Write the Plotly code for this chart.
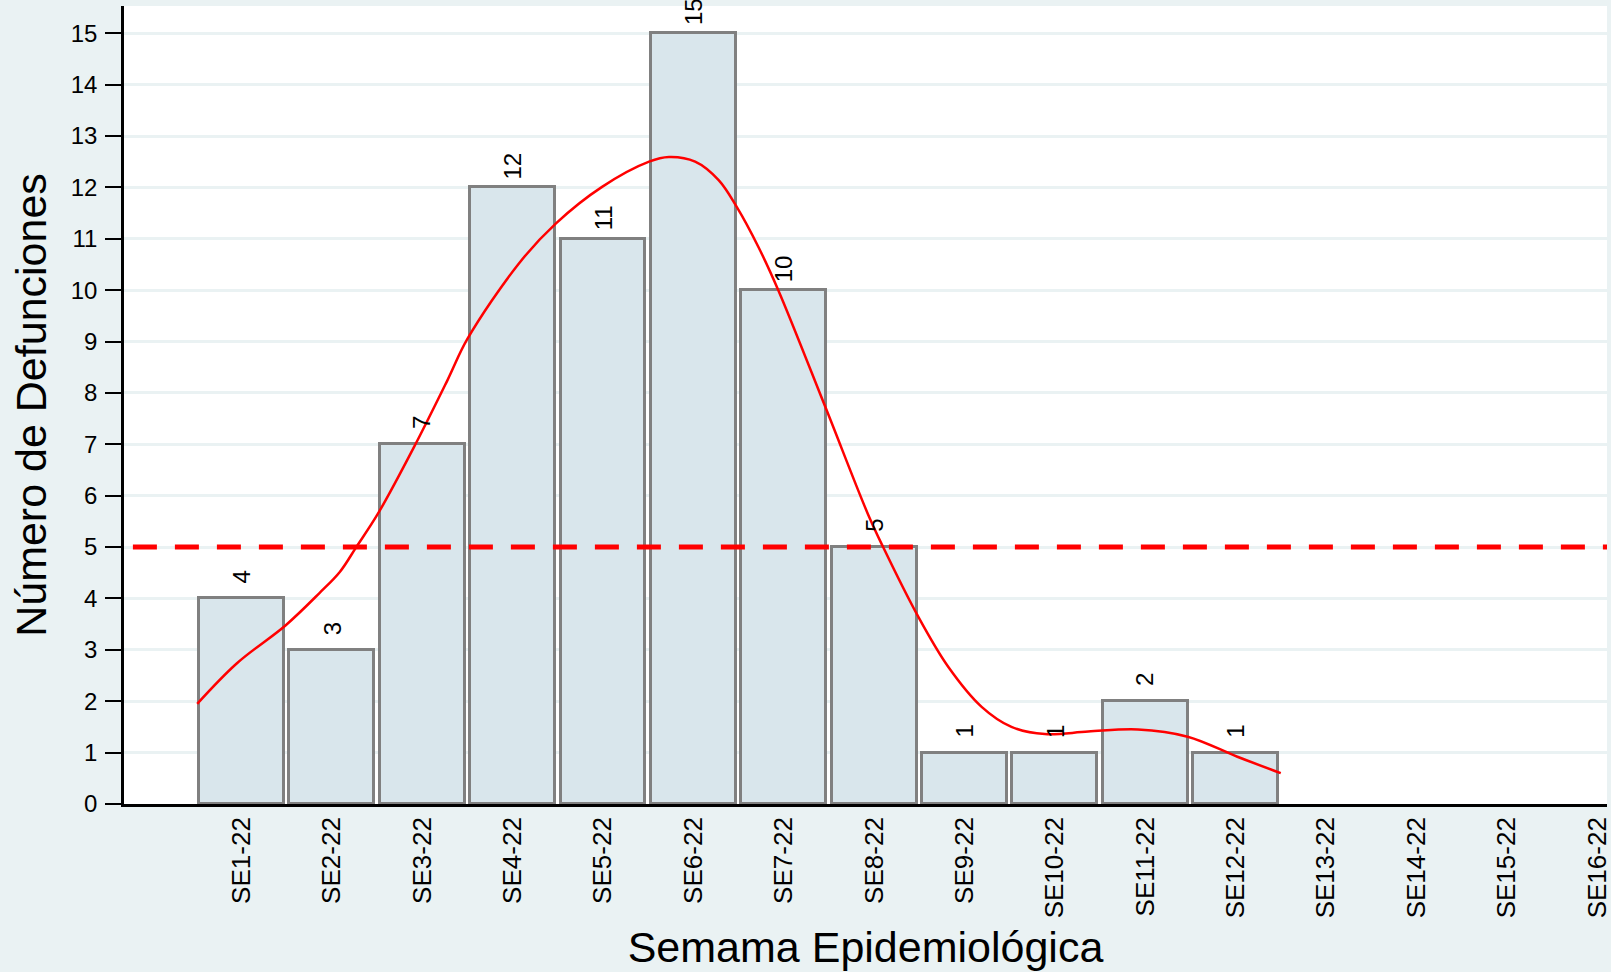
import plotly.graph_objects as go

# --- Datos ---
SEMANAS = list(range(1, 17))
ETIQUETAS = [f"SE{s}-22" for s in SEMANAS]
SEMANAS_CON_DATOS = list(range(1, 13))
DEFUNCIONES = [4, 3, 7, 12, 11, 15, 10, 5, 1, 1, 2, 1]
UMBRAL = 5

# curva suavizada (semana, valor)
CURVA_X = [0.51, 0.95, 1.49, 1.86, 2.09, 2.27, 2.51, 2.91, 3.28, 3.5, 4.07,
           4.48, 4.99, 5.51, 5.73, 6.02, 6.28, 6.48, 6.72, 6.94, 7.46, 7.93,
           8.10, 8.49, 8.82, 9.19, 9.52, 9.89, 10.37, 10.92, 11.47, 12.02, 12.50]
CURVA_Y = [1.95, 2.74, 3.48, 4.10, 4.52, 5.0, 5.65, 6.95, 8.25, 9.05, 10.52,
           11.3, 12.01, 12.50, 12.59, 12.50, 12.14, 11.62, 10.84, 10.0, 7.73, 5.65,
           5.0, 3.64, 2.67, 1.89, 1.50, 1.36, 1.41, 1.45, 1.31, 0.92, 0.60]

FONDO = "#eaf2f3"
FUENTE = "Liberation Sans, Arial, sans-serif"

fig = go.Figure()

fig.add_trace(go.Bar(
    x=SEMANAS_CON_DATOS,
    y=DEFUNCIONES,
    width=0.94,
    marker=dict(color="#d9e6ec", line=dict(color="#808080", width=3)),
    hoverinfo="x+y",
    showlegend=False,
))

fig.add_trace(go.Scatter(
    x=CURVA_X,
    y=CURVA_Y,
    mode="lines",
    line=dict(color="red", width=2.5, shape="spline", smoothing=1.0),
    hoverinfo="skip",
    showlegend=False,
))

# línea de umbral
fig.add_shape(
    type="line", xref="paper", yref="y",
    x0=0.006, x1=1, y0=UMBRAL, y1=UMBRAL,
    line=dict(color="red", width=5, dash="24px,18px"),
    layer="above",
)

# etiquetas de las barras (rotadas)
for s, v in zip(SEMANAS_CON_DATOS, DEFUNCIONES):
    fig.add_annotation(
        x=s, y=v, text=str(v), showarrow=False,
        textangle=-90, yanchor="middle", xanchor="center",
        yshift=21.5,
        font=dict(size=24, color="black", family=FUENTE),
    )

fig.update_layout(
    width=1611,
    height=972,
    margin=dict(l=124, r=0, t=6, b=168),
    paper_bgcolor=FONDO,
    plot_bgcolor="white",
    font=dict(family=FUENTE, color="black"),
    bargap=0,
)

fig.update_xaxes(
    range=[-0.30, 16.11],
    tickmode="array",
    tickvals=SEMANAS,
    ticktext=ETIQUETAS,
    tickangle=-90,
    tickfont=dict(size=26),
    ticks="",
    ticklabelstandoff=0,
    ticklabeloverflow="allow",
    showgrid=False,
    zeroline=False,
    showline=True,
    linecolor="black",
    linewidth=2.5,
    title=dict(text="Semama Epidemiológica", font=dict(size=43), standoff=15),
)

fig.update_yaxes(
    range=[0, 15.53],
    tickmode="linear",
    tick0=0,
    dtick=1,
    tickfont=dict(size=24),
    ticks="outside",
    ticklen=16,
    tickwidth=2,
    tickcolor="black",
    ticklabelstandoff=3,
    showgrid=True,
    gridcolor=FONDO,
    gridwidth=3,
    zeroline=False,
    showline=True,
    linecolor="black",
    linewidth=2.5,
    title=dict(text="Número de Defunciones", font=dict(size=43), standoff=11),
)

# sin margen del body para que la figura ocupe la ventana completa
fig.write_html(
    "out.html",
    config={"displayModeBar": False},
    post_script="document.body.style.margin='0';",
)
